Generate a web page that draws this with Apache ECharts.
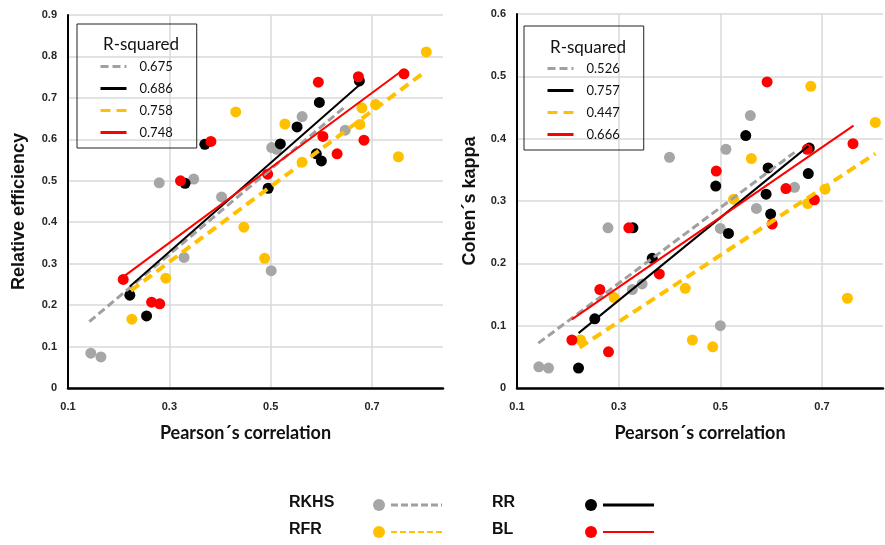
<!DOCTYPE html>
<html>
<head>
<meta charset="utf-8">
<script src="https://cdn.jsdelivr.net/npm/echarts@6/dist/echarts.min.js"></script>
<style>
html, body { margin: 0; padding: 0; background: #fff; }
#chart { width: 885px; height: 545px; }
</style>
</head>
<body>
<div id="chart"></div>
<script>
// models
const models = ["RKHS", "RR", "RFR", "BL"];
const colors = ["#a6a6a6", "#000000", "#ffc000", "#ff0000"];

// left panel: Pearson's correlation vs relative efficiency
const reRKHS = [[0.145, 0.084], [0.165, 0.075], [0.28, 0.495], [0.329, 0.315], [0.348, 0.504], [0.403, 0.461],
  [0.501, 0.283], [0.502, 0.580], [0.512, 0.576], [0.562, 0.655], [0.647, 0.622]];
const reRR = [[0.222, 0.224], [0.255, 0.174], [0.331, 0.494], [0.370, 0.588], [0.495, 0.482], [0.519, 0.589],
  [0.552, 0.630], [0.590, 0.565], [0.596, 0.689], [0.600, 0.548], [0.675, 0.741]];
const reRFR = [[0.226, 0.166], [0.293, 0.265], [0.431, 0.666], [0.447, 0.388], [0.488, 0.313], [0.528, 0.637],
  [0.562, 0.545], [0.676, 0.636], [0.680, 0.676], [0.707, 0.684], [0.752, 0.558], [0.807, 0.811]];
const reBL = [[0.209, 0.262], [0.265, 0.207], [0.281, 0.203], [0.322, 0.500], [0.382, 0.595], [0.494, 0.516],
  [0.594, 0.738], [0.603, 0.607], [0.631, 0.565], [0.673, 0.751], [0.684, 0.598], [0.763, 0.758]];
// fitted trend lines (start, end)
const reFits = [
  [[0.142, 0.160], [0.647, 0.679]],
  [[0.222, 0.245], [0.675, 0.731]],
  [[0.224, 0.235], [0.800, 0.759]],
  [[0.209, 0.268], [0.763, 0.769]]
];
const reR2 = ["0.675", "0.686", "0.758", "0.748"];

// right panel: Pearson's correlation vs Cohen's kappa
const ckRKHS = [[0.143, 0.034], [0.162, 0.032], [0.279, 0.257], [0.327, 0.158], [0.346, 0.167], [0.400, 0.370],
  [0.500, 0.256], [0.500, 0.100], [0.511, 0.383], [0.559, 0.437], [0.571, 0.288], [0.646, 0.322]];
const ckRR = [[0.221, 0.032], [0.253, 0.111], [0.328, 0.257], [0.366, 0.208], [0.491, 0.324], [0.516, 0.248],
  [0.550, 0.405], [0.590, 0.311], [0.594, 0.353], [0.599, 0.279], [0.673, 0.344], [0.675, 0.385]];
const ckRFR = [[0.225, 0.077], [0.291, 0.145], [0.431, 0.160], [0.445, 0.077], [0.485, 0.066], [0.526, 0.303],
  [0.561, 0.368], [0.672, 0.296], [0.678, 0.484], [0.706, 0.319], [0.750, 0.144], [0.805, 0.426]];
const ckBL = [[0.208, 0.077], [0.263, 0.158], [0.280, 0.058], [0.320, 0.257], [0.380, 0.183], [0.492, 0.348],
  [0.592, 0.491], [0.602, 0.263], [0.629, 0.320], [0.671, 0.383], [0.685, 0.302], [0.761, 0.392]];
const ckFits = [
  [[0.142, 0.072], [0.646, 0.378]],
  [[0.221, 0.088], [0.673, 0.388]],
  [[0.223, 0.065], [0.805, 0.376]],
  [[0.208, 0.110], [0.762, 0.421]]
];
const ckR2 = ["0.526", "0.757", "0.447", "0.666"];

const myChart = echarts.init(document.getElementById("chart"));

const lineStyles = [
  { color: "#a0a0a0", width: 3, type: [8, 4] },
  { color: "#000000", width: 2, type: "solid" },
  { color: "#ffc000", width: 4, type: [10, 6] },
  { color: "#ff0000", width: 2, type: "solid" }
];

const makeSeries = (sets, fits, r2, idx) => {
  const out = [];
  sets.forEach((d, i) => {
    out.push({
      name: models[i], type: "scatter", xAxisIndex: idx, yAxisIndex: idx,
      symbolSize: 11, itemStyle: { color: colors[i], opacity: 1 }, data: d, z: 2
    });
  });
  fits.forEach((d, i) => {
    out.push({
      name: r2[i], type: "line", xAxisIndex: idx, yAxisIndex: idx, symbol: "none",
      lineStyle: lineStyles[i], itemStyle: { color: lineStyles[i].color }, data: d, z: 3
    });
  });
  return out;
};

const labelStyle = { color: "#262626", fontSize: 11, fontWeight: "bold", fontFamily: "Liberation Sans" };

const xAxisOf = (idx, max, pad) => ({
  type: "value", gridIndex: idx, min: 0.1, max: max, interval: 0.2,
  name: "Pearson´s correlation", nameLocation: "middle", nameGap: 36,
  nameTextStyle: { color: "#111", fontSize: 18, fontWeight: "bold", fontFamily: "Lato", padding: pad },
  axisLine: { lineStyle: { color: "#000", width: 2.5 } },
  axisTick: { show: false },
  axisLabel: { ...labelStyle, margin: 13, showMaxLabel: false },
  splitLine: { show: true, showMaxLine: false, lineStyle: { color: "#d9d9d9", width: 1.5 } }
});

const yAxisOf = (idx, max, name, gap, pad) => ({
  type: "value", gridIndex: idx, min: 0, max: max, interval: 0.1,
  name: name, nameLocation: "middle", nameGap: gap,
  nameTextStyle: { color: "#111", fontSize: 18, fontWeight: "bold", fontFamily: "Liberation Sans", padding: pad },
  axisLine: { show: true, lineStyle: { color: "#000", width: 2 } },
  axisTick: { show: false },
  axisLabel: { ...labelStyle, margin: 11 },
  splitLine: { lineStyle: { color: "#d9d9d9", width: 1.5 } }
});

const legendOf = (left, top, names) => ({
  orient: "vertical", left: left, top: top, data: names,
  borderColor: "#222", borderWidth: 1, padding: [36, 24, 9, 22],
  itemWidth: 26, itemHeight: 14, itemGap: 9, selectedMode: false,
  itemStyle: { opacity: 0 },
  lineStyle: { width: 3 },
  textStyle: { color: "#111", fontSize: 13, fontFamily: "Lato", padding: [0, 0, 0, 8] }
});

const titleOf = (left, top) => ({
  text: "R-squared", left: left, top: top,
  textStyle: { color: "#111", fontSize: 17, fontWeight: "normal", fontFamily: "Lato" }
});

// bottom key: label, circle, line sample
const keyRows = [
  { label: "RKHS", x: 289, y: 505, i: 0 },
  { label: "RR", x: 492, y: 505, i: 1 },
  { label: "RFR", x: 289, y: 532, i: 2 },
  { label: "BL", x: 492, y: 532, i: 3 }
];
const keyGraphic = [];
keyRows.forEach(k => {
  const cx = k.i % 2 === 0 ? 379 : 591;
  const lineStyle = k.i === 0 ? { stroke: "#a0a0a0", lineWidth: 3, lineDash: [7, 3] }
    : k.i === 2 ? { stroke: "#ffc000", lineWidth: 2, lineDash: [6, 3] }
    : { stroke: colors[k.i], lineWidth: k.i === 1 ? 3 : 2 };
  keyGraphic.push(
    { type: "text", left: k.x, top: k.y - 10, style: { text: k.label, fill: "#111", font: "bold 16px 'Liberation Sans'" } },
    { type: "circle", shape: { cx: cx, cy: k.y, r: 6 }, style: { fill: colors[k.i] } },
    { type: "line", shape: { x1: cx + 12, y1: k.y, x2: cx + 63, y2: k.y }, style: lineStyle }
  );
});

const option = {
  backgroundColor: "#fff",
  animation: false,
  title: [titleOf(98, 31), titleOf(545, 34)],
  legend: [legendOf(77, 24, reR2), legendOf(524, 26, ckR2)],
  grid: [
    { left: 68, top: 15, width: 375, height: 373 },
    { left: 517, top: 14, width: 366, height: 374 }
  ],
  xAxis: [xAxisOf(0, 0.84, [0, 20, 0, 0]), xAxisOf(1, 0.82, 0)],
  yAxis: [
    yAxisOf(0, 0.9, "Relative efficiency", 40, [0, 20, 0, 0]),
    yAxisOf(1, 0.6, "Cohen´s kappa", 38, 0)
  ],
  series: [
    ...makeSeries([reRKHS, reRR, reRFR, reBL], reFits, reR2, 0),
    ...makeSeries([ckRKHS, ckRR, ckRFR, ckBL], ckFits, ckR2, 1)
  ],
  graphic: keyGraphic
};

option && myChart.setOption(option);
</script>
</body>
</html>
